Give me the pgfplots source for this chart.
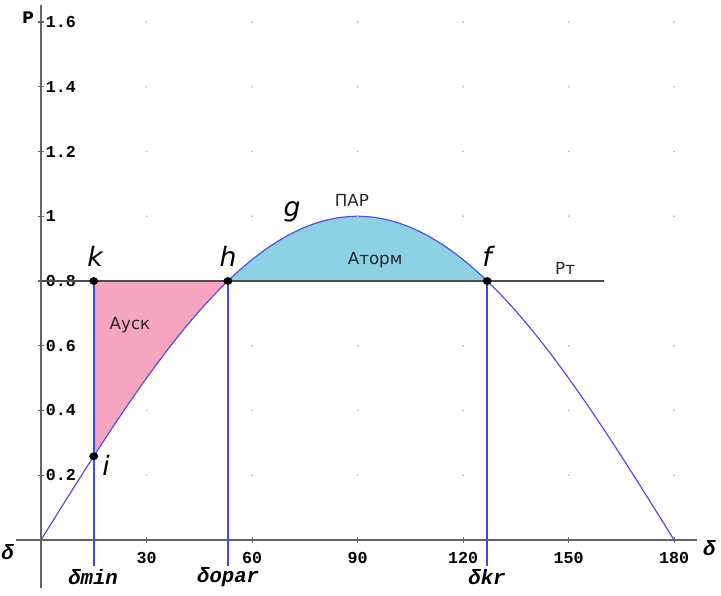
\documentclass[border=0pt]{standalone}
\usepackage{fontspec}
\setmainfont{DejaVu Sans}
\newfontfamily\monob{Liberation Mono}
\newfontfamily\itsans{DejaVu Sans}
\usepackage{pgfplots}
\pgfplotsset{compat=1.18}
\definecolor{curveblue}{RGB}{80,80,230}
\definecolor{lineblue}{RGB}{70,70,240}
\definecolor{axgray}{RGB}{100,100,100}
\definecolor{pinkfill}{RGB}{245,165,192}
\definecolor{bluefill}{RGB}{140,210,228}
\begin{document}
\begin{tikzpicture}[x=0.75pt,y=0.75pt]
\useasboundingbox (-41,-56) rectangle (680,540);
\begin{axis}[
  anchor=origin, at={(0,0)},
  x=2.638pt, y=242.8pt,
  xmin=-7, xmax=186.5, ymin=-0.148, ymax=1.652,
  axis lines=middle,
  axis line style={axgray, line width=1.2pt, -},
  clip=false,
  xtick={30,60,90,120,150,180},
  ytick={0.2,0.4,0.6,0.8,1,1.2,1.4,1.6},
  yticklabels={0.2,0.4,0.6,0.8,1,1.2,1.4,1.6},
  xticklabels={30,60,90,120,150,180},
  tick style={axgray, line width=0.8pt},
  major tick length=5pt,
  tick align=center,
  xticklabel style={font=\monob\bfseries\fontsize{12.5}{12.5}\selectfont, anchor=north, yshift=-3pt},
  yticklabel style={font=\monob\bfseries\fontsize{12.5}{12.5}\selectfont, anchor=west, xshift=5pt, fill=white, inner xsep=1pt},
]
% grid dots
\addplot[only marks, mark=*, mark size=0.45pt, color=black!25] coordinates {
(30,0.2)(60,0.2)(90,0.2)(120,0.2)(150,0.2)(180,0.2)
(30,0.4)(60,0.4)(90,0.4)(120,0.4)(150,0.4)(180,0.4)
(30,0.6)(60,0.6)(90,0.6)(120,0.6)(150,0.6)(180,0.6)
(30,1.0)(60,1.0)(90,1.0)(120,1.0)(150,1.0)(180,1.0)
(30,1.2)(60,1.2)(90,1.2)(120,1.2)(150,1.2)(180,1.2)
(30,1.4)(60,1.4)(90,1.4)(120,1.4)(150,1.4)(180,1.4)
(30,1.6)(60,1.6)(90,1.6)(120,1.6)(150,1.6)(180,1.6)
};
% pink area
\addplot[fill=pinkfill, draw=none, smooth] coordinates {
(15,0.2588)(20,0.3420)(25,0.4226)(30,0.5)(35,0.5736)(40,0.6428)(45,0.7071)(50,0.7660)(53.13,0.8)
} -- (axis cs:15,0.8) -- cycle;
% blue area
\addplot[fill=bluefill, draw=none, smooth] coordinates {
(53.13,0.8)(55,0.8192)(60,0.8660)(65,0.9063)(70,0.9397)(75,0.9659)(80,0.9848)(85,0.9962)(90,1)(95,0.9962)(100,0.9848)(105,0.9659)(110,0.9397)(115,0.9063)(120,0.8660)(125,0.8192)(126.87,0.8)
} -- cycle;
% Pt line
\addplot[color=black!70, line width=1.1pt] coordinates {(0,0.8)(160,0.8)};
% vertical lines
\addplot[draw=lineblue, line width=1.3pt] coordinates {(15,0.8)(15,-0.08)};
\addplot[draw=lineblue, line width=1.3pt] coordinates {(53.13,0.8)(53.13,-0.08)};
\addplot[draw=lineblue, line width=1.3pt] coordinates {(126.87,0.8)(126.87,-0.08)};
% curve
\addplot[draw=curveblue, line width=0.9pt, smooth] coordinates {
(0,0)(5,0.0872)(10,0.1736)(15,0.2588)(20,0.3420)(25,0.4226)(30,0.5)(35,0.5736)(40,0.6428)(45,0.7071)(50,0.7660)(55,0.8192)(60,0.8660)(65,0.9063)(70,0.9397)(75,0.9659)(80,0.9848)(85,0.9962)(90,1)(95,0.9962)(100,0.9848)(105,0.9659)(110,0.9397)(115,0.9063)(120,0.8660)(125,0.8192)(130,0.7660)(135,0.7071)(140,0.6428)(145,0.5736)(150,0.5)(155,0.4226)(160,0.3420)(165,0.2588)(170,0.1736)(175,0.0872)(180,0)
};
% points
\addplot[only marks, mark=*, mark size=2.7pt, color=black, mark options={xscale=1.15}] coordinates {
(15,0.8)(53.13,0.8)(126.87,0.8)(15,0.2588)
};
% labels
\node[font=\itsans\itshape\fontsize{20}{20}\selectfont] at (axis cs:15.4,0.875) {k};
\node[font=\itsans\itshape\fontsize{20}{20}\selectfont] at (axis cs:53.2,0.875) {h};
\node[font=\itsans\itshape\fontsize{20}{20}\selectfont] at (axis cs:71.4,1.015) {g};
\node[font=\itsans\itshape\fontsize{20}{20}\selectfont] at (axis cs:126.8,0.875) {f};
\node[font=\itsans\itshape\fontsize{20}{20}\selectfont] at (axis cs:18.5,0.23) {i};
\node[font=\fontsize{12.5}{12.5}\selectfont, text=black!85] at (axis cs:88.4,1.05) {ПАР};
\node[font=\fontsize{12.5}{12.5}\selectfont, text=black!85] at (axis cs:95,0.865) {Аторм};
\node[font=\fontsize{12.5}{12.5}\selectfont, text=black!85] at (axis cs:149,0.84) {Рт};
\node[font=\fontsize{12.5}{12.5}\selectfont, text=black!85] at (axis cs:25.3,0.664) {Ауск};
\node[font=\monob\bfseries\itshape\fontsize{15.5}{15.5}\selectfont] at (axis cs:14.8,-0.115) {δmin};
\node[font=\monob\bfseries\itshape\fontsize{15.5}{15.5}\selectfont] at (axis cs:53.2,-0.115) {δopar};
\node[font=\monob\bfseries\itshape\fontsize{15.5}{15.5}\selectfont] at (axis cs:126.8,-0.115) {δkr};
\node[font=\monob\bfseries\itshape\fontsize{15.5}{15.5}\selectfont] at (axis cs:-9.5,-0.037) {δ};
\node[font=\monob\bfseries\itshape\fontsize{15.5}{15.5}\selectfont] at (axis cs:190,-0.025) {δ};
\node[font=\rmfamily\bfseries\fontsize{12}{12}\selectfont] at (axis cs:-3.7,1.612) {P};
\end{axis}
\end{tikzpicture}
\end{document}
